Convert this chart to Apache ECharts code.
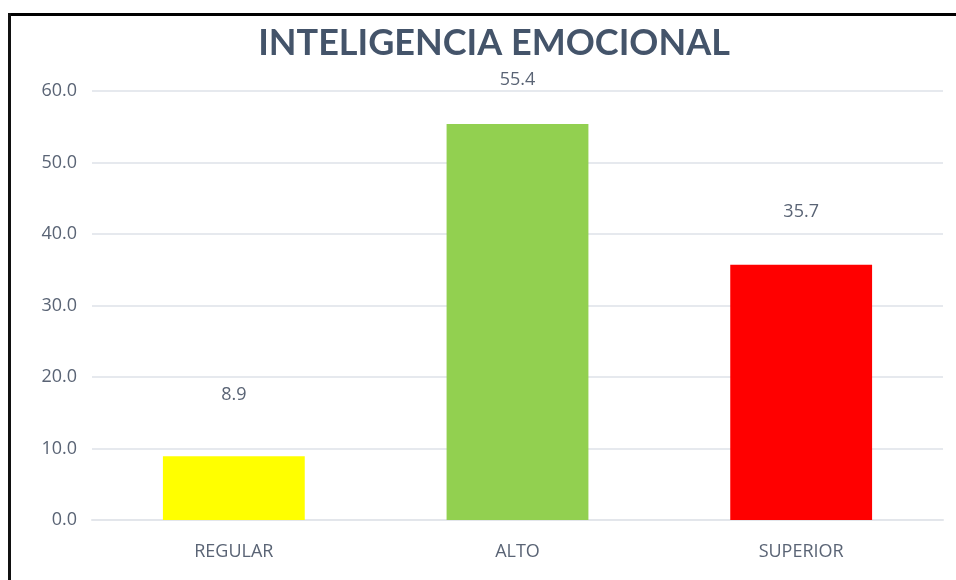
<!DOCTYPE html>
<html><head><meta charset="utf-8">
<script src="https://cdn.jsdelivr.net/npm/echarts@6/dist/echarts.min.js"></script>
<style>
html,body{margin:0;padding:0;background:#fff;}
#c{position:absolute;left:0;top:0;width:956px;height:580px;}
#bt{position:absolute;left:8px;top:13px;width:948px;height:3px;background:#000;}
#bl{position:absolute;left:8px;top:13px;width:3px;height:567px;background:#111;}
</style></head>
<body>
<div id="c"></div><div id="bt"></div><div id="bl"></div>
<script>
const categories = ['REGULAR', 'ALTO', 'SUPERIOR'];
const values = [8.9, 55.4, 35.7];
const barColors = ['#FFFF00', '#92D050', '#FF0000'];
const labelDistances = [52, 35, 44];
const yTicks = { min: 0, max: 60, interval: 10 };

const chart = echarts.init(document.getElementById('c'));
chart.setOption({
  animation: false,
  title: {
    text: 'INTELIGENCIA EMOCIONAL',
    left: 489, top: 20, textAlign: 'center',
    textStyle: { fontFamily: 'Lato', fontWeight: 'bold', fontSize: 36, color: '#44546A' }
  },
  grid: { left: 92, right: 13, top: 91, bottom: 60, containLabel: false },
  xAxis: {
    type: 'category', data: categories,
    axisLine: { show: true, lineStyle: { color: '#E3E6EB', width: 2 } },
    axisTick: { show: false },
    axisLabel: { color: '#5A6475', fontFamily: 'Open Sans', fontSize: 18, margin: 23 }
  },
  yAxis: {
    type: 'value', min: yTicks.min, max: yTicks.max, interval: yTicks.interval,
    axisLine: { show: false }, axisTick: { show: false },
    splitLine: { lineStyle: { color: '#E6E9EE', width: 2 } },
    axisLabel: { color: '#5A6475', fontFamily: 'Open Sans', fontSize: 18, margin: 15,
      formatter: v => v.toFixed(1) }
  },
  series: [{
    type: 'bar', barWidth: '50%',
    data: values.map((v, i) => ({ value: v, itemStyle: { color: barColors[i] },
      label: { distance: labelDistances[i] } })),
    label: { show: true, position: 'top', color: '#5A6475', fontFamily: 'Open Sans', fontSize: 18,
      formatter: p => p.value.toFixed(1) }
  }]
});
</script>
</body></html>
